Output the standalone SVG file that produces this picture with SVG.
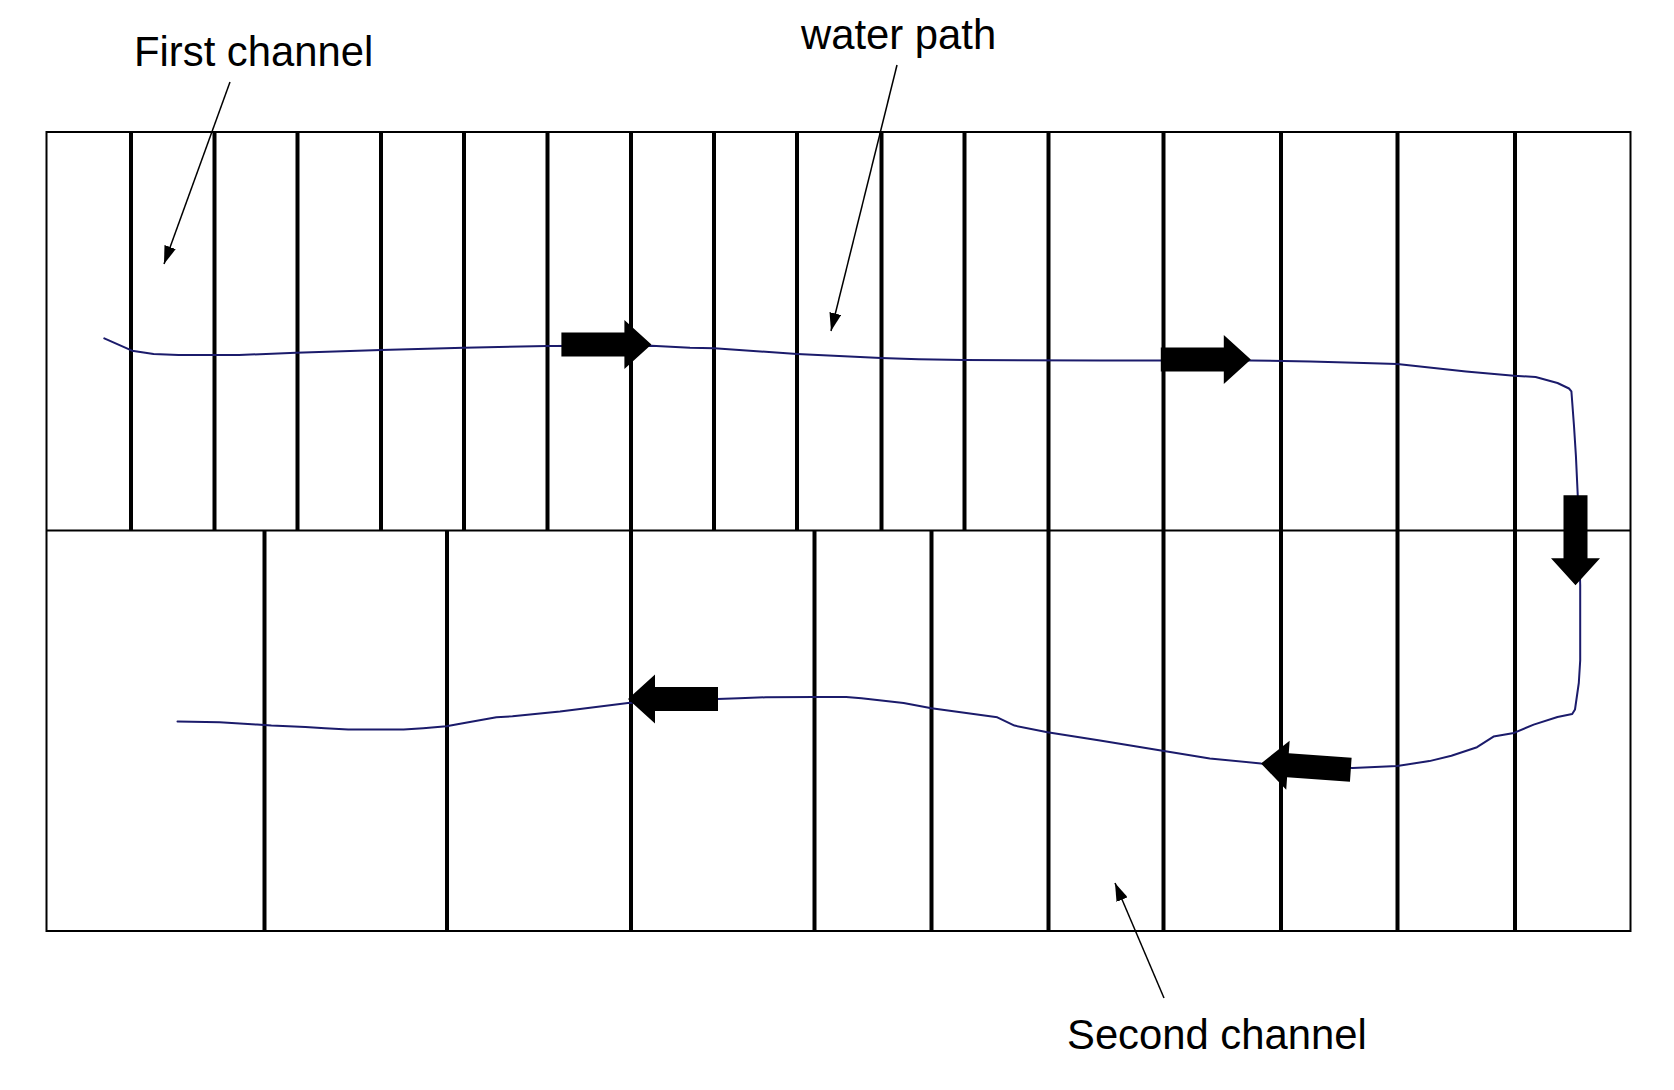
<svg xmlns="http://www.w3.org/2000/svg" width="1674" height="1090" viewBox="0 0 1674 1090">
<style>
.frame{fill:none;stroke:#000;stroke-width:2}
.div{stroke:#000;stroke-width:4}
.water{fill:none;stroke:#1b1b6b;stroke-width:2;stroke-linejoin:round;stroke-linecap:round}
.leader{stroke:#000;stroke-width:1.5;fill:none}
.lbl{font-family:"Liberation Sans",Arial,sans-serif;font-size:41.8px;fill:#000}
</style>
<defs>
<marker id="ah" viewBox="0 0 18 12" refX="18" refY="6" markerWidth="18" markerHeight="12" markerUnits="userSpaceOnUse" orient="auto">
<path d="M0,0 L18,6 L0,12 Z" fill="#000"/>
</marker>
<path id="flow" d="M0,0 L-27,-24.5 L-27,-12 L-90,-12 L-90,12 L-27,12 L-27,24.5 Z" fill="#000"/>
</defs>
<rect width="1674" height="1090" fill="#fff"/>
<g id="grid">
<rect class="frame" x="46.5" y="132" width="1584" height="799"/>
<line class="frame" x1="46.5" y1="530.6" x2="1630.5" y2="530.6"/>
<g id="first-channel-dividers">
<line class="div" x1="131" y1="132" x2="131" y2="530.6"/>
<line class="div" x1="214.5" y1="132" x2="214.5" y2="530.6"/>
<line class="div" x1="297.5" y1="132" x2="297.5" y2="530.6"/>
<line class="div" x1="381" y1="132" x2="381" y2="530.6"/>
<line class="div" x1="464" y1="132" x2="464" y2="530.6"/>
<line class="div" x1="547.5" y1="132" x2="547.5" y2="530.6"/>
<line class="div" x1="714" y1="132" x2="714" y2="530.6"/>
<line class="div" x1="797" y1="132" x2="797" y2="530.6"/>
<line class="div" x1="881.5" y1="132" x2="881.5" y2="530.6"/>
<line class="div" x1="964.5" y1="132" x2="964.5" y2="530.6"/>
</g>
<g id="second-channel-dividers">
<line class="div" x1="264.5" y1="530.6" x2="264.5" y2="931"/>
<line class="div" x1="447" y1="530.6" x2="447" y2="931"/>
<line class="div" x1="814.5" y1="530.6" x2="814.5" y2="931"/>
<line class="div" x1="931.5" y1="530.6" x2="931.5" y2="931"/>
</g>
<g id="shared-dividers">
<line class="div" x1="631" y1="132" x2="631" y2="931"/>
<line class="div" x1="1048.5" y1="132" x2="1048.5" y2="931"/>
<line class="div" x1="1163.5" y1="132" x2="1163.5" y2="931"/>
<line class="div" x1="1281" y1="132" x2="1281" y2="931"/>
<line class="div" x1="1397.5" y1="132" x2="1397.5" y2="931"/>
<line class="div" x1="1515" y1="132" x2="1515" y2="931"/>
</g>
</g>
<g id="water-path">
<path class="water" d="M104.3,338.3 L132,350.7 L153.6,354 L178.6,355 L239,355 L296,352.7 L381,350 L464,347.7 L547,346 L651.4,345.7 L690,347.7 L714.3,348.3 L797,354 L881,358 L918.6,359.3 L964.3,360 L1100,360.5 L1250.8,360.4 L1310.5,361.4 L1363.5,363.1 L1397.2,364.1 L1466,371.4 L1514,375.7 L1535.6,377 L1557.5,383 L1569,388.5 L1571.4,391.3 L1574,426 L1575.9,455.6 L1577.7,494.2 L1580.2,585 L1580.2,660.5 L1578.8,683 L1575,709.5 L1572.2,714 L1557.5,717 L1533.7,724.6 L1514,732.9 L1493.5,736.6 L1477,747.2 L1451.4,755.8 L1429.4,761.1 L1397.2,766 L1352.6,767.9 L1261,763.4 L1209.8,758.4 L1164,751 L1136.6,746.4 L1100,740.4 L1047.5,732.3 L1014.5,725.6 L997.3,717.3 L931.5,708.3 L903.6,703 L861.5,698.3 L846.2,697 L814.4,697 L765.8,697.3 L739,698.3 L717.2,699 L628,703 L560,711.6 L512.5,716.3 L496.4,717.3 L464.3,723 L446.4,726.3 L423.2,728.3 L403.6,729.6 L348.2,729.6 L325,728.3 L305.4,727 L271.4,725.6 L257,724.6 L219.6,722.3 L177.5,721.6"/>
</g>
<g id="flow-arrows">
<use id="arrow-1" href="#flow" transform="translate(651.4,344.5)"/>
<use id="arrow-2" href="#flow" transform="translate(1250.8,359.5)"/>
<use id="arrow-3" href="#flow" transform="translate(1575.5,585.2) rotate(90)"/>
<use id="arrow-4" href="#flow" transform="translate(1261,763.4) rotate(184)"/>
<use id="arrow-5" href="#flow" transform="translate(628,699) rotate(180)"/>
</g>
<g id="leaders">
<line class="leader" x1="230" y1="82" x2="164" y2="264" marker-end="url(#ah)"/>
<line class="leader" x1="897" y1="65" x2="831" y2="331" marker-end="url(#ah)"/>
<line class="leader" x1="1164" y1="998" x2="1115" y2="883" marker-end="url(#ah)"/>
</g>
<g id="labels">
<text id="label-first" class="lbl" x="134" y="65.5">First channel</text>
<text id="label-water" class="lbl" x="801" y="49.3">water path</text>
<text id="label-second" class="lbl" x="1067" y="1049">Second channel</text>
</g>
</svg>
